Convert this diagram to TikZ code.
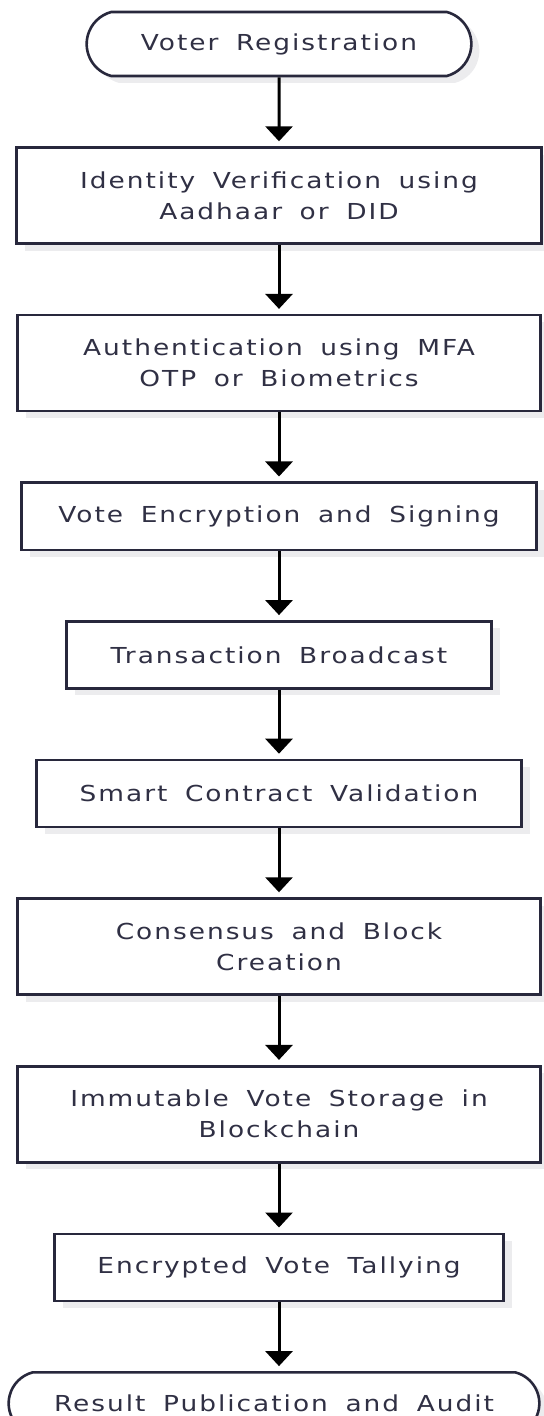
\documentclass[tikz,border=0pt]{standalone}
\usepackage{fontspec}
\setmainfont{DejaVu Sans}
\newfontfamily\flowfont[FakeStretch=1.2, LetterSpace=9, WordSpace=1.7]{DejaVu Sans}
\usetikzlibrary{positioning, arrows.meta, shapes.misc, shadows}

\definecolor{edge}{RGB}{40,40,60}
\definecolor{ink}{RGB}{48,48,68}
\definecolor{shade}{RGB}{236,236,238}

\begin{document}
\begin{tikzpicture}[>={Triangle[width=13.5pt, length=7.5pt]}, node distance=34.5pt,
        every node/.style={font=\flowfont\fontsize{11}{15.5}\selectfont, text=ink, align=center},
        stepbox/.style={draw=edge, line width=1.3pt, fill=white, minimum height=33.5pt,
            drop shadow={shadow xshift=4pt, shadow yshift=-3.5pt, fill=shade, opacity=1}},
        twobox/.style={stepbox, minimum height=48pt},
        terminal/.style={stepbox, rounded rectangle, rounded rectangle arc length=150, minimum height=32pt},
        flow/.style={->, line width=1.5pt, shorten >=2.5pt}]

    \useasboundingbox (0,0) rectangle (272pt,-708pt);

    % start and the checks on the voter
    \node[terminal, minimum width=199pt] (reg) at (139.5pt,-22pt) {Voter Registration};
    \node[twobox, minimum width=262.5pt, below=of reg] (idv) {Identity Verification using\\Aadhaar or DID};
    \node[twobox, minimum width=261.5pt, below=of idv] (auth) {Authentication using MFA\\OTP or Biometrics};

    % casting the vote
    \node[stepbox, minimum width=257.5pt, below=of auth] (enc) {Vote Encryption and Signing};
    \node[stepbox, minimum width=212.5pt, below=of enc] (bcast) {Transaction Broadcast};
    \node[stepbox, minimum width=242.5pt, below=of bcast] (contract) {Smart Contract Validation};

    % on the chain
    \node[twobox, minimum width=261.5pt, below=of contract] (block) {Consensus and Block\\Creation};
    \node[twobox, minimum width=261.5pt, below=of block] (store) {Immutable Vote Storage in\\Blockchain};
    \node[stepbox, minimum width=224.5pt, below=of store] (tally) {Encrypted Vote Tallying};
    \node[terminal, minimum width=272pt, minimum height=31pt, below=of tally, xshift=-2.5pt] (result) {Result Publication and Audit};

    \foreach \a/\b in {reg/idv, idv/auth, auth/enc, enc/bcast, bcast/contract,
                       contract/block, block/store, store/tally}
        \draw[flow] (\a) -- (\b);
    \draw[flow] (tally.south) -- (tally.south |- result.north);
\end{tikzpicture}
\end{document}
